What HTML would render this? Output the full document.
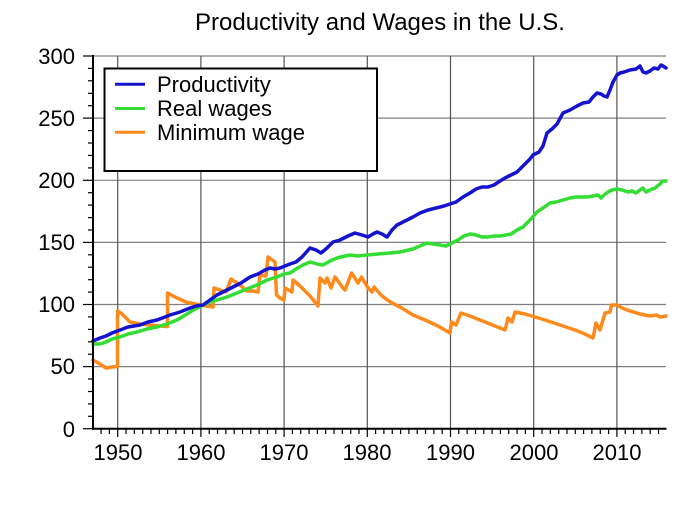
<!DOCTYPE html>
<html><head><meta charset="utf-8"><style>
html,body{margin:0;padding:0;background:#fff;}
svg{display:block;}
text{font-family:"Liberation Sans",Arial,sans-serif;fill:#000;}
</style></head><body>
<svg width="685" height="512" viewBox="0 0 685 512" xmlns="http://www.w3.org/2000/svg">
<rect width="685" height="512" fill="#fff"/>
<text x="380" y="30" font-size="24" text-anchor="middle">Productivity and Wages in the U.S.</text>

<g stroke="#808080" stroke-width="1.2">
<line x1="93" y1="56" x2="666" y2="56"/>
<line x1="93" y1="118.1" x2="666" y2="118.1"/>
<line x1="93" y1="180.3" x2="666" y2="180.3"/>
<line x1="93" y1="242.4" x2="666" y2="242.4"/>
<line x1="93" y1="304.5" x2="666" y2="304.5"/>
<line x1="93" y1="366.6" x2="666" y2="366.6"/>
</g>
<g stroke="#555" stroke-width="1.2">
<line x1="117.7" y1="56" x2="117.7" y2="429"/>
<line x1="200.9" y1="56" x2="200.9" y2="429"/>
<line x1="284.1" y1="56" x2="284.1" y2="429"/>
<line x1="367.3" y1="56" x2="367.3" y2="429"/>
<line x1="450.5" y1="56" x2="450.5" y2="429"/>
<line x1="533.7" y1="56" x2="533.7" y2="429"/>
<line x1="616.9" y1="56" x2="616.9" y2="429"/>
</g>

<g fill="none" stroke-width="3.5" stroke-linejoin="round" stroke-linecap="round">
<polyline stroke="#ff8a1c" points="93,360 100,364 106,368 112,367 117.5,366.5 117.5,311 122,314 130,322 140,324 150,325 160,326 167.5,326.5 167.5,293 175,297 186,302 200,305 213,307 214,288 220,290 226,292 231,279 240,285 247,291 253,291 258,292 260,275 266,276 268,257 275,262 276.5,295 280,298 284,300 285,288 292,292 293,280 300,286 310,296 318,306 320,278 325,283 327,278 331,288 335,277 343,288 345,290 351.5,273 358,283 361.5,277 368,288 372,292 374,287 381,295 386,299 392,303 400,307 413,315 425,320 438,326 450,333 451.5,322 456,325 461,313 470,316 480,320 490,324 500,328 505,330 508,318 512,322 515,312 525,314 535,317 545,320 560,325 575,330 585,334 593,338 596,323 600,330 605,313 610,312 611.5,305 617,305 622,308 630,311 640,314 650,316 656,315 660,317 666,316"/>
<polyline stroke="#33dd33" points="93,344 100,344 106,342 112,339 120,337 128,334 137,332 147,329 157,327 167,324 177,320 187,314 195,309 203,305 210,302 217,300 227,297 237,293 247,289 257,285 267,280 277,277 284,274 290,273 296,269 303,265 310,262 317,264 323,265 330,261 337,258 345,256 350,255 358,256 367,255 378,254 390,253 400,252 413,249 420,246 427,243 433,244 440,245 446,246 452,243 458,240 464,236 470,234 476,235 482,237 488,237 494,236 500,236 506,235 511,234 517,230 523,227 530,220 537,212 543,208 550,203 556,202 563,200 570,198 576,197 582,197 587,197 593,196 598,195 601,198 604,195 608,192 612,190 617,189 622,190 628,192 632,191 636,193 640,190 643,188 646,192 650,190 655,188 660,184 663,181 666,181"/>
<polyline stroke="#1414d0" points="93,341 100,338 106,336 112,333 120,330 128,327 140,325 148,322 157,320 165,317 170,315 180,312 190,308 196,306 203,305 210,300 217,295 225,291 233,287 241,283 250,277 258,274 265,270 270,268 275,269 280,268 285,266 290,264 296,262 302,257 310,248 316,250 321,253 327,248 333,242 340,240 348,236 355,233 362,235 368,237 373,234 377,232 382,234 387,237 392,230 397,225 405,221 413,217 420,213 428,210 436,208 444,206 450,204 456,202 463,197 470,193 476,189 482,187 488,187 494,185 500,181 505,178 511,175 517,172 523,166 530,159 533,155 539,152 543,146 547,133 552,129 557,124 563,113 570,110 577,106 583,103 589,102 593,97 597,93 601,94 604,96 607,97 610,90 613,82 617,75 620,73 624,72 630,70 636,69 640,66 643,72 646,73 650,71 654,68 658,69 661,65 663,66 666,68"/>
</g>

<rect x="104.5" y="68.5" width="272.5" height="102.5" fill="#fff" stroke="#000" stroke-width="2"/>
<line x1="115" y1="84.3" x2="145" y2="84.3" stroke="#1414d0" stroke-width="3"/>
<line x1="115" y1="108.5" x2="145" y2="108.5" stroke="#33dd33" stroke-width="3"/>
<line x1="115" y1="132.3" x2="145" y2="132.3" stroke="#ff8a1c" stroke-width="3"/>
<text x="157" y="92" font-size="22">Productivity</text>
<text x="157" y="116" font-size="22">Real wages</text>
<text x="157" y="140" font-size="22">Minimum wage</text>

<line x1="93" y1="55" x2="93" y2="429.7" stroke="#000" stroke-width="2"/>
<line x1="92" y1="428.7" x2="666.5" y2="428.7" stroke="#000" stroke-width="2"/>

<g stroke="#000" stroke-width="1.2">
<line x1="83" y1="56" x2="93" y2="56"/>
<line x1="83" y1="118.1" x2="93" y2="118.1"/>
<line x1="83" y1="180.3" x2="93" y2="180.3"/>
<line x1="83" y1="242.4" x2="93" y2="242.4"/>
<line x1="83" y1="304.5" x2="93" y2="304.5"/>
<line x1="83" y1="366.6" x2="93" y2="366.6"/>
<line x1="83" y1="428.7" x2="93" y2="428.7"/>
<line x1="88" y1="68.4" x2="93" y2="68.4"/><line x1="88" y1="80.8" x2="93" y2="80.8"/><line x1="88" y1="93.3" x2="93" y2="93.3"/><line x1="88" y1="105.7" x2="93" y2="105.7"/>
<line x1="88" y1="130.6" x2="93" y2="130.6"/><line x1="88" y1="143" x2="93" y2="143"/><line x1="88" y1="155.4" x2="93" y2="155.4"/><line x1="88" y1="167.9" x2="93" y2="167.9"/>
<line x1="88" y1="192.7" x2="93" y2="192.7"/><line x1="88" y1="205.1" x2="93" y2="205.1"/><line x1="88" y1="217.6" x2="93" y2="217.6"/><line x1="88" y1="230" x2="93" y2="230"/>
<line x1="88" y1="254.8" x2="93" y2="254.8"/><line x1="88" y1="267.2" x2="93" y2="267.2"/><line x1="88" y1="279.7" x2="93" y2="279.7"/><line x1="88" y1="292.1" x2="93" y2="292.1"/>
<line x1="88" y1="316.9" x2="93" y2="316.9"/><line x1="88" y1="329.4" x2="93" y2="329.4"/><line x1="88" y1="341.8" x2="93" y2="341.8"/><line x1="88" y1="354.2" x2="93" y2="354.2"/>
<line x1="88" y1="379" x2="93" y2="379"/><line x1="88" y1="391.5" x2="93" y2="391.5"/><line x1="88" y1="403.9" x2="93" y2="403.9"/><line x1="88" y1="416.3" x2="93" y2="416.3"/>
</g>
<g font-size="22" text-anchor="end">
<text x="75" y="64">300</text>
<text x="75" y="126">250</text>
<text x="75" y="188">200</text>
<text x="75" y="250">150</text>
<text x="75" y="312">100</text>
<text x="75" y="374">50</text>
<text x="75" y="437">0</text>
</g>

<g stroke="#000" stroke-width="1.2">
<line x1="101.1" y1="428.7" x2="101.1" y2="434"/><line x1="109.4" y1="428.7" x2="109.4" y2="434"/>
<line x1="117.7" y1="428.7" x2="117.7" y2="437"/>
<line x1="126" y1="428.7" x2="126" y2="434"/><line x1="134.3" y1="428.7" x2="134.3" y2="434"/><line x1="142.7" y1="428.7" x2="142.7" y2="434"/><line x1="151" y1="428.7" x2="151" y2="434"/><line x1="159.3" y1="428.7" x2="159.3" y2="434"/><line x1="167.6" y1="428.7" x2="167.6" y2="434"/><line x1="175.9" y1="428.7" x2="175.9" y2="434"/><line x1="184.3" y1="428.7" x2="184.3" y2="434"/><line x1="192.6" y1="428.7" x2="192.6" y2="434"/>
<line x1="200.9" y1="428.7" x2="200.9" y2="437"/>
<line x1="209.2" y1="428.7" x2="209.2" y2="434"/><line x1="217.5" y1="428.7" x2="217.5" y2="434"/><line x1="225.9" y1="428.7" x2="225.9" y2="434"/><line x1="234.2" y1="428.7" x2="234.2" y2="434"/><line x1="242.5" y1="428.7" x2="242.5" y2="434"/><line x1="250.8" y1="428.7" x2="250.8" y2="434"/><line x1="259.1" y1="428.7" x2="259.1" y2="434"/><line x1="267.5" y1="428.7" x2="267.5" y2="434"/><line x1="275.8" y1="428.7" x2="275.8" y2="434"/>
<line x1="284.1" y1="428.7" x2="284.1" y2="437"/>
<line x1="292.4" y1="428.7" x2="292.4" y2="434"/><line x1="300.7" y1="428.7" x2="300.7" y2="434"/><line x1="309.1" y1="428.7" x2="309.1" y2="434"/><line x1="317.4" y1="428.7" x2="317.4" y2="434"/><line x1="325.7" y1="428.7" x2="325.7" y2="434"/><line x1="334" y1="428.7" x2="334" y2="434"/><line x1="342.3" y1="428.7" x2="342.3" y2="434"/><line x1="350.7" y1="428.7" x2="350.7" y2="434"/><line x1="359" y1="428.7" x2="359" y2="434"/>
<line x1="367.3" y1="428.7" x2="367.3" y2="437"/>
<line x1="375.6" y1="428.7" x2="375.6" y2="434"/><line x1="383.9" y1="428.7" x2="383.9" y2="434"/><line x1="392.3" y1="428.7" x2="392.3" y2="434"/><line x1="400.6" y1="428.7" x2="400.6" y2="434"/><line x1="408.9" y1="428.7" x2="408.9" y2="434"/><line x1="417.2" y1="428.7" x2="417.2" y2="434"/><line x1="425.5" y1="428.7" x2="425.5" y2="434"/><line x1="433.9" y1="428.7" x2="433.9" y2="434"/><line x1="442.2" y1="428.7" x2="442.2" y2="434"/>
<line x1="450.5" y1="428.7" x2="450.5" y2="437"/>
<line x1="458.8" y1="428.7" x2="458.8" y2="434"/><line x1="467.1" y1="428.7" x2="467.1" y2="434"/><line x1="475.5" y1="428.7" x2="475.5" y2="434"/><line x1="483.8" y1="428.7" x2="483.8" y2="434"/><line x1="492.1" y1="428.7" x2="492.1" y2="434"/><line x1="500.4" y1="428.7" x2="500.4" y2="434"/><line x1="508.7" y1="428.7" x2="508.7" y2="434"/><line x1="517.1" y1="428.7" x2="517.1" y2="434"/><line x1="525.4" y1="428.7" x2="525.4" y2="434"/>
<line x1="533.7" y1="428.7" x2="533.7" y2="437"/>
<line x1="542" y1="428.7" x2="542" y2="434"/><line x1="550.3" y1="428.7" x2="550.3" y2="434"/><line x1="558.7" y1="428.7" x2="558.7" y2="434"/><line x1="567" y1="428.7" x2="567" y2="434"/><line x1="575.3" y1="428.7" x2="575.3" y2="434"/><line x1="583.6" y1="428.7" x2="583.6" y2="434"/><line x1="591.9" y1="428.7" x2="591.9" y2="434"/><line x1="600.3" y1="428.7" x2="600.3" y2="434"/><line x1="608.6" y1="428.7" x2="608.6" y2="434"/>
<line x1="616.9" y1="428.7" x2="616.9" y2="437"/>
<line x1="625.2" y1="428.7" x2="625.2" y2="434"/><line x1="633.5" y1="428.7" x2="633.5" y2="434"/><line x1="641.9" y1="428.7" x2="641.9" y2="434"/><line x1="650.2" y1="428.7" x2="650.2" y2="434"/><line x1="658.5" y1="428.7" x2="658.5" y2="434"/>
</g>
<g font-size="22" text-anchor="middle">
<text x="118" y="460">1950</text>
<text x="201" y="460">1960</text>
<text x="284" y="460">1970</text>
<text x="367" y="460">1980</text>
<text x="450.5" y="460">1990</text>
<text x="534" y="460">2000</text>
<text x="617" y="460">2010</text>
</g>
</svg>
</body></html>
